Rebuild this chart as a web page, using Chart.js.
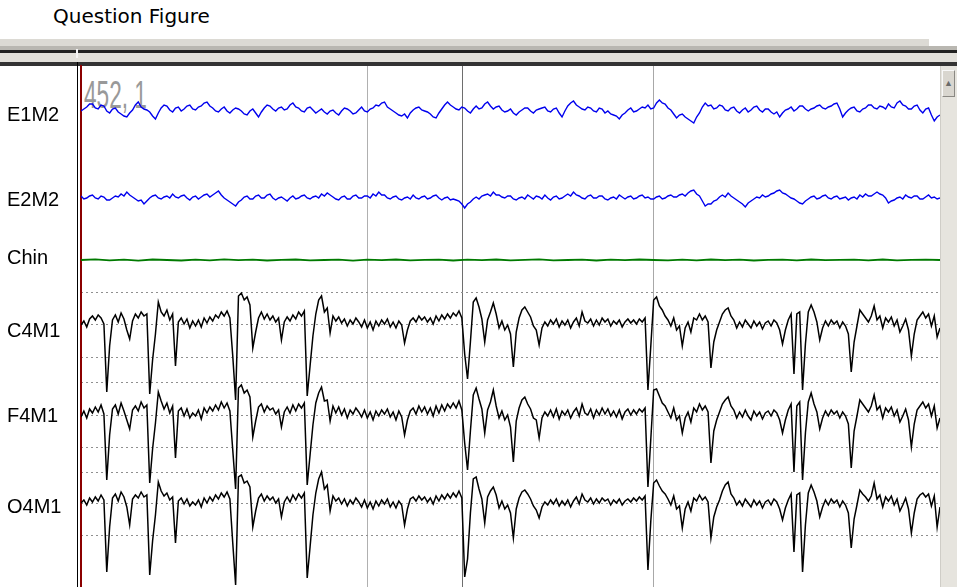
<!DOCTYPE html>
<html>
<head>
<meta charset="utf-8">
<title>EEG epoch</title>
<script src="https://cdn.jsdelivr.net/npm/chart.js"></script>
<style>
  body { margin: 0; background: #fff; width: 957px; height: 587px; overflow: hidden; position: relative; }
  .abs { position: absolute; }
  #title { left: 53px; top: 6px; font: 20px/20px "DejaVu Sans", sans-serif; color: #000; }
  #bar1 { left: 0; top: 39px; width: 929px; height: 7px; background: #dcdad4; }
  #bar2 { left: 0; top: 46px; width: 957px; height: 4px; background: #b9b7b1; }
  #bar3 { left: 0; top: 50px; width: 957px; height: 3px; background: #222; }
  #bar4 { left: 0; top: 53px; width: 957px; height: 9px; background: #e2e0da; }
  #bar5 { left: 0; top: 62px; width: 957px; height: 4px; background: #333; }
  #notch { left: 76px; top: 49px; width: 2px; height: 9px; background: #f4f4f4; }
  #panel { left: 77px; top: 62px; width: 1px; height: 525px; background: #000; }
  #stamp { left: 84px; top: 75px; font: 39px/39px "Liberation Sans", Arial, sans-serif; color: #999;
           transform: scaleX(0.58); transform-origin: 0 0; white-space: pre; }
  #scroll { left: 940px; top: 66px; width: 17px; height: 521px; background: #e6e4de;
            border-left: 1px solid #cfcdc7; box-sizing: border-box; }
  #btn { left: 1px; top: 4px; width: 13px; height: 27px; background: #d9d6cf; box-sizing: border-box;
         border: 1px solid #f8f8f8; border-right-color: #8a8883; border-bottom-color: #8a8883;
         font: 9px/25px sans-serif; color: #6a6a6a; text-align: center; }
  canvas { position: absolute; left: 0; top: 0; }
</style>
</head>
<body>
<div id="title" class="abs">Question Figure</div>
<div id="bar1" class="abs"></div>
<div id="bar2" class="abs"></div>
<div id="bar3" class="abs"></div>
<div id="bar4" class="abs"></div>
<div id="bar5" class="abs"></div>
<div id="notch" class="abs"></div>
<div id="panel" class="abs"></div>
<div id="stamp" class="abs">452, 1</div>
<canvas id="eeg" width="957" height="587"></canvas>
<div id="scroll" class="abs"><div id="btn" class="abs">&#9650;</div></div>

<script>
// channel names, top to bottom
const channelNames = ["E1M2", "E2M2", "Chin", "C4M1", "F4M1", "O4M1"];

// one 30 s epoch, deflection per sample (up is positive)
const epochSeconds = 30;

// eye channels, one sample every 0.1 s
const e1m2 = [
  0, 2, 4, 7, 7, 3, 2, 6, 5, 0, -2, 2, 3, -1, -3, -5, -6, -2, 1, 6,
  9, 4, 2, 1, -1, -5, -8, -2, 3, 6, 5, 1, -1, 3, 4, 0, 2, 5, 6, 2,
  1, 4, 5, 8, 9, 5, 3, 0, -1, 2, 4, 0, -2, 1, 3, 2, 0, -3, -4, 0,
  2, -2, -6, -1, 3, 6, 5, 2, 0, 3, 4, 1, 2, 6, 8, 4, 3, 0, -1, 3,
  4, 1, -2, 0, 2, -1, -3, 0, 1, -2, -4, 0, 3, 2, 0, -3, -2, 1, 4, 0,
  -1, 2, 3, 6, 5, 8, 9, 4, 2, 0, -2, -4, -5, -3, -7, -2, 1, 3, 4, 1,
  0, -1, -3, -6, -7, -2, 2, 6, 9, 6, 4, 2, 1, 4, 3, 0, -2, 2, 5, 2,
  3, 7, 9, 5, 2, 4, 5, 1, -1, 0, 2, -2, -4, -1, 1, 3, 3, 0, -2, 1,
  2, 3, 4, 0, -1, 2, 3, -2, -6, 0, 5, 8, 10, 6, 4, 2, 1, 4, 3, 0,
  -1, 3, 2, -2, 0, -3, -4, -5, -8, -4, -2, 1, 3, -1, 0, 2, 4, 3, 6, 2,
  3, 8, 11, 8, 7, 3, 1, -3, -7, -4, -3, -6, -8, -10, -12, -6, -2, 4, 8, 5,
  6, 2, 3, 6, 5, 1, 0, 3, 4, 0, -2, 1, 3, -1, 1, 4, 5, 1, -1, 2,
  2, -1, -3, -1, -6, -2, 1, 2, 4, 0, 2, 5, 5, 2, 0, 2, 3, 5, 6, 3,
  2, 4, 5, 7, 8, 2, -6, -2, 1, 3, 4, 0, -1, 2, 3, 6, 6, 3, 2, 5,
  4, 2, 7, 4, 3, 8, 10, 6, 5, 2, 2, 5, 6, 1, -2, 2, 3, -4, -10, -6,
  -4
];
const e2m2 = [
  2, -1, 0, 2, 3, 0, -1, 2, 1, -2, -2, 0, 2, 1, 4, 2, 6, 3, 1, -1,
  -3, -2, -6, -3, 0, 2, 3, 0, -1, 1, 2, 0, 4, 1, 0, 2, 3, 0, -2, 1,
  2, -1, 1, 3, 4, 1, 3, 5, 7, 3, 0, -2, -4, -6, -8, -4, -2, 1, 2, -1,
  -1, 2, 3, 0, 0, 3, 4, 0, -2, 0, 1, -1, -3, 0, 2, -1, 0, 2, 3, 0,
  -1, 1, 2, 0, 4, 2, 5, 3, 1, -1, -2, 1, 2, -1, -1, 2, 3, 0, 0, 2,
  2, 0, 4, 2, 6, 3, 3, 0, -1, 1, 2, -1, -2, 0, 1, -1, 3, 0, -1, 1,
  2, -1, 0, 2, 3, 0, -2, 0, 1, -2, -1, -2, -3, -6, -10, -6, -4, -1, 1, -1,
  2, 3, 4, 2, 6, 3, 3, 1, 0, 2, 2, -1, -2, 0, 1, -1, 3, 1, -1, 2,
  1, -1, 3, 0, -2, 1, 2, -1, 0, 2, 4, 2, 6, 3, 2, 0, -1, 2, 3, 0,
  0, 2, 2, -1, -2, 0, 1, -1, 3, 1, -1, 1, 2, -1, 0, 2, 3, 0, 1, -1,
  -1, 1, 2, -1, 0, 2, 3, 1, 1, 3, 4, 2, 5, 7, 8, 4, 2, -3, -8, -6,
  -6, -3, -2, 1, 3, 1, 5, 2, 0, -2, -4, -6, -9, -5, -3, -1, 1, 0, 3, 1,
  2, 4, 5, 7, 8, 5, 4, 2, 0, -1, -3, -5, -6, -3, -1, 1, 2, -1, 0, 2,
  3, 0, -1, 1, 2, -1, 0, 1, -2, 0, 1, -1, 3, 1, 4, 2, 2, 4, 6, 4,
  3, 0, -5, -3, -2, 0, 1, -1, 3, 1, 0, 2, 2, -1, -1, 1, 3, 0, 1, -1,
  0
];

// chin EMG, one sample every 0.5 s
const chin = [
  0, 0.6, -0.4, 0.3, -0.6, 0.5, 0, -0.5, 0.4, -0.3,
  0.6, -0.2, 0.3, -0.5, 0.2, 0.5, -0.4, 0, 0.4, -0.6,
  0.3, -0.2, 0.5, -0.3, 0.1, 0.4, -0.5, 0.3, -0.1, 0.5,
  -0.4, 0.2, 0.6, -0.3, 0, 0.4, -0.5, 0.3, -0.2, 0.5,
  0, -0.4, 0.3, -0.3, 0.5, -0.1, 0.4, -0.5, 0.2, 0.3,
  -0.4, 0.5, -0.2, 0.1, 0.4, -0.3, 0.5, -0.4, 0.2, 0.3, 0
];

// EEG channels, one sample every 0.1 s
const c4m1 = [
  -1, 3, -3, 5, 8, 4, 9, 6, 0, -68,
  -22, 4, 9, 2, 11, 5, -6, -15, 3, 10,
  6, 12, 8, 10, -70, -36, -10, 22, 12, 8,
  14, 4, 10, -42, 2, 6, 0, 5, -4, 3,
  -2, 4, -3, 6, 1, 7, 3, 9, 6, 12,
  8, 13, 6, -32, -76, 28, 31, 24, 27, 19,
  -24, -8, 6, 12, 5, 10, 4, 8, 2, 6,
  -16, 2, 7, 3, 9, 5, 12, 8, 13, -72,
  -42, -12, 10, 24, 28, 12, 16, -9, 8, 3,
  7, 1, 5, -2, 4, 0, 6, 2, -3, 4,
  -4, 2, -6, 3, -2, 4, 0, 5, -3, 2,
  -4, 3, -1, -19, -6, 3, 6, 2, 8, 4,
  7, 2, 6, 0, 8, 3, 9, 5, 10, 6,
  11, 8, 13, 6, -30, -55, -18, 22, 26, 17,
  5, -18, 4, 12, 21, 10, -4, 3, -6, -1,
  -10, -43, -8, 6, 14, 17, 12, 7, -2, -6,
  -21, -4, 2, -2, 4, 0, 5, -3, 3, -1,
  4, -4, 2, 6, -2, 12, 3, 1, 5, -2,
  4, -1, 6, 2, 5, -2, 3, 0, 4, -3,
  2, 5, 1, 4, 0, 5, 2, 6, -66, -22,
  24, 27, 18, 14, 8, 4, -2, 6, -6, -2,
  -22, -4, 2, -8, 6, 4, 10, 4, 8, 2,
  -44, -18, -6, 2, 10, 14, 16, 8, 4, -4,
  2, -3, 4, 0, -4, 3, -2, 2, -5, 1,
  3, -2, 4, 1, -6, -20, -6, 4, 10, -50,
  10, 12, -66, -20, 12, 19, 12, 2, -16, -4,
  3, -2, 4, 0, 3, -4, 2, -2, -10, -48,
  -18, -2, 14, 10, 6, 2, 8, 18, 4, 8,
  -4, 6, 2, 7, -2, 4, -8, -2, 5, -6,
  -32, -10, 4, 8, 12, 6, 10, -2, 8, -13, -4
];
const f4m1 = [
  -2, 4, -3, 6, 2, 8, 3, 10, 1, -65,
  -20, 6, 10, 1, 12, 4, -5, -14, 5, 9,
  4, 13, 7, 10, -68, -34, -8, 23, 14, 6,
  12, 2, 9, -43, 4, 7, -1, 6, -3, 2,
  -1, 5, -4, 7, 2, 8, 4, 10, 5, 13,
  7, 12, 4, -35, -74, 27, 30, 22, 25, 18,
  -22, -6, 8, 11, 3, 9, 5, 7, 1, 5,
  -12, 3, 8, 2, 10, 4, 11, 7, 12, -70,
  -40, -10, 12, 22, 28, 14, 15, -6, 9, 2,
  8, 0, 6, -3, 5, 1, 7, 3, -2, 5,
  -3, 3, -5, 4, -1, 5, 1, 6, -2, 3,
  -5, 4, -2, -20, -5, 4, 7, 1, 9, 3,
  8, 1, 7, -1, 9, 2, 10, 4, 11, 7,
  12, 7, 14, 5, -28, -55, -16, 20, 27, 16,
  6, -18, 5, 13, 25, 9, -3, 4, -5, 0,
  -12, -47, -6, 7, 15, 18, 11, 6, -3, -5,
  -23, -3, 3, -1, 5, -2, 6, -4, 4, 0,
  5, -3, 3, 7, -1, 11, 2, 0, 6, -3,
  5, 0, 7, 1, 6, -1, 4, -2, 5, -4,
  3, 6, 0, 5, 1, 6, 3, 7, -72, -24,
  25, 26, 19, 12, 9, 3, -3, 7, -5, -1,
  -18, -3, 3, -7, 7, 3, 11, 5, 9, 3,
  -48, -16, -5, 3, 11, 15, 18, 9, 5, -3,
  3, -2, 5, -1, -5, 4, -1, 3, -4, 2,
  4, -1, 5, 2, -5, -18, -5, 5, 11, -57,
  9, 13, -65, -18, 13, 22, 11, 3, -14, -3,
  4, -1, 5, 1, 4, -3, 3, -1, -9, -53,
  -16, -1, 15, 11, 7, 3, 9, 20, 5, 9,
  -3, 7, 3, 8, -1, 5, -7, -1, 6, -5,
  -32, -9, 5, 9, 13, 7, 11, -1, 9, -13, -3
];
const o4m1 = [
  0, 3, -2, 5, 1, 6, 2, 8, 3, -69,
  -24, 5, 9, 2, 11, 6, -4, -22, 4, 8,
  5, 11, 6, 8, -72, -38, -12, 21, 12, 7,
  10, 3, 6, -40, 2, 5, -1, 4, -3, 1,
  -2, 3, -4, 5, 0, 6, 2, 8, 4, 10,
  6, 11, 4, -40, -82, 26, 28, 20, 22, 16,
  -24, -8, 5, 9, 2, 7, 3, 6, 0, 4,
  -14, 1, 6, 1, 8, 3, 9, 5, 10, -75,
  -44, -12, 10, 24, 31, 14, 18, -8, 7, 2,
  5, -1, 4, -3, 3, -1, 5, 1, -4, 3,
  -5, 1, -6, 2, -3, 3, -1, 4, -4, 1,
  -5, 2, -2, -22, -6, 4, 6, 2, 7, 3,
  6, 1, 5, -1, 7, 2, 8, 4, 9, 5,
  10, 6, 12, 5, -74, -56, -10, 24, 26, 14,
  4, -20, 6, 12, 16, 8, -5, 2, -6, -2,
  -10, -35, -6, 5, 11, 13, 9, 4, -3, -7,
  -15, -4, 1, -2, 3, -1, 4, -3, 2, -2,
  3, -4, 2, 6, -1, 9, 3, 1, 5, -1,
  4, 0, 5, 2, 4, -2, 3, 0, 4, -2,
  2, 4, 1, 5, 2, 6, 3, 7, -67, -18,
  20, 23, 17, 12, 9, 4, -2, 7, -6, -3,
  -25, -6, 1, -8, 5, 2, 8, 3, 6, 1,
  -35, -14, -4, 3, 12, 18, 21, 9, 5, -2,
  2, -3, 4, 0, -4, 3, -2, 2, -5, 1,
  3, -2, 4, 1, -6, -17, -5, 3, 9, -49,
  8, 10, -69, -22, 10, 18, 11, 2, -14, -4,
  3, -2, 4, 0, 3, -4, 2, -2, -10, -45,
  -16, -2, 13, 9, 6, 2, 7, 20, 4, 8,
  -4, 6, 2, 7, -2, 4, -8, -2, 5, -6,
  -30, -10, 4, 8, 10, 6, 9, -3, 7, -24, -4
];

// second marks drawn as vertical lines
const markTimes = [10, 13.32, 20];

// layout: page rows (px) of each trace baseline, label and dotted line
const baseRows = [111, 198, 260, 324, 415, 503];
const labelRows = [115.5, 200.8, 258.8, 331.5, 416.5, 507.8];
const dotRows = [292, 324, 357, 382, 415, 447, 472, 503, 535];
const traceColors = ["#0000ee", "#0000ee", "#007a00", "#000000", "#000000", "#000000"];
const traceWidths = [1.4, 1.4, 1.8, 1.5, 1.5, 1.5];
const markColors = ["#b0b0b0", "#6e6e6e", "#a8a8a8"];

const traces = [e1m2, e2m2, chin, c4m1, f4m1, o4m1];
const datasets = traces.map((vals, k) => {
  const step = epochSeconds / (vals.length - 1);
  return {
    label: channelNames[k],
    data: vals.map((v, i) => ({ x: i * step, y: baseRows[k] - v })),
    borderColor: traceColors[k],
    borderWidth: traceWidths[k],
    pointRadius: 0,
    tension: 0,
  };
});

// keep the plot box exactly where the window frame puts it
const noPad = s => { s.paddingTop = 0; s.paddingBottom = 0; s.paddingLeft = 0; s.paddingRight = 0; };

new Chart(document.getElementById("eeg"), {
  type: "line",
  data: { datasets },
  options: {
    responsive: false,
    animation: false,
    events: [],
    layout: { padding: { left: 7, right: 17, top: 66, bottom: 0 } },
    plugins: { legend: { display: false }, tooltip: { enabled: false } },
    scales: {
      x: {
        type: "linear", min: 0, max: epochSeconds,
        afterBuildTicks: s => { s.ticks = markTimes.map(v => ({ value: v })); },
        afterFit: s => { s.height = 0; noPad(s); },
        ticks: { display: false },
        grid: { color: c => markColors[c.index], drawTicks: false },
        border: { display: false },
      },
      y: {
        type: "linear", reverse: true, min: 66, max: 587, position: "left",
        afterBuildTicks: s => { s.ticks = labelRows.map(v => ({ value: v })); },
        afterFit: s => { s.width = 74; noPad(s); },
        ticks: {
          autoSkip: false, crossAlign: "far", padding: 0, color: "#000",
          font: { family: "'Liberation Sans', Arial, sans-serif", size: 20 },
          callback: (v, i) => channelNames[i],
        },
        grid: { drawOnChartArea: false, drawTicks: false },
        border: { color: "#8b0000", width: 2 },
      },
      dots: {
        type: "linear", reverse: true, min: 66, max: 587, position: "right",
        afterBuildTicks: s => { s.ticks = dotRows.map(v => ({ value: v })); },
        afterFit: s => { s.width = 0; noPad(s); },
        ticks: { display: false },
        grid: { color: "#8f8f8f", drawTicks: false },
        border: { display: false, dash: [2, 3] },
      },
    },
  },
});
</script>
</body>
</html>
